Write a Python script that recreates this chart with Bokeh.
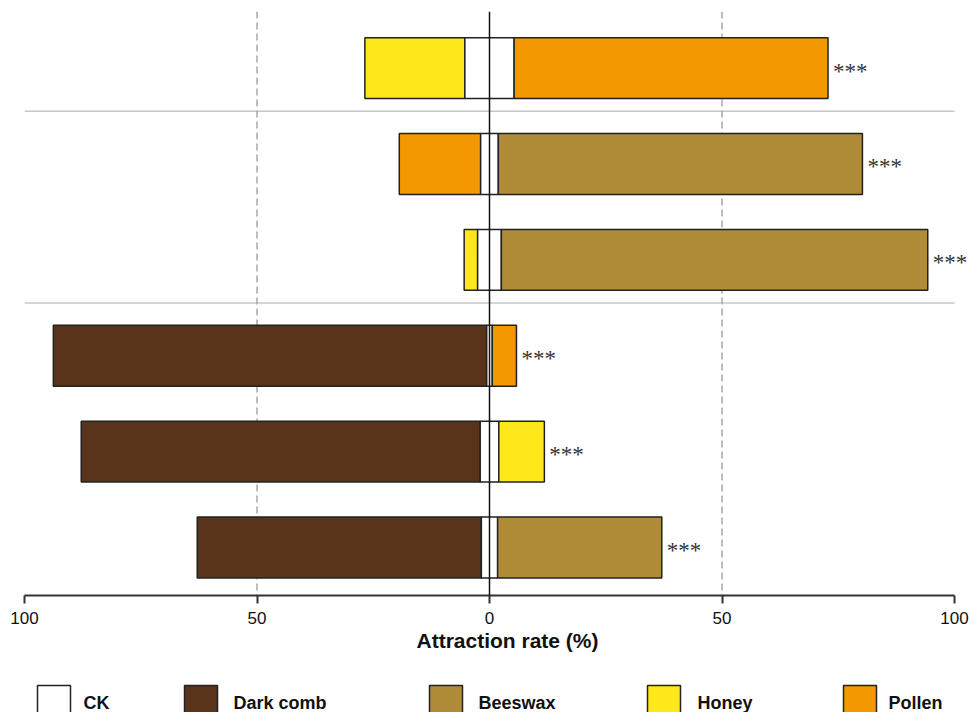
from bokeh.plotting import figure
from bokeh.models import Span, FixedTicker, ColumnDataSource, Range1d, LabelSet, Title
from bokeh.layouts import column
from bokeh.core.properties import value
from bokeh.embed import file_html
from bokeh.resources import INLINE

# ---------------- data (rows listed top -> bottom) ----------------
categories = ["CK", "Dark comb", "Beeswax", "Honey", "Pollen"]
colors = ["#FFFFFF", "#5A341A", "#B08C38", "#FEE81B", "#F39800"]
left_cat = ["Honey", "Pollen", "Honey", "Dark comb", "Dark comb", "Dark comb"]
left_val = [21.5, 17.5, 2.9, 93.2, 85.8, 61.1]
ck_val = [10.6, 3.8, 5.1, 1.2, 4.0, 3.5]
right_cat = ["Pollen", "Beeswax", "Beeswax", "Pollen", "Honey", "Beeswax"]
right_val = [67.5, 78.3, 91.7, 5.2, 9.8, 35.3]
signif = ["***", "***", "***", "***", "***", "***"]
tick_values = [-100, -50, 0, 50, 100]
tick_labels = ["100", "50", "0", "50", "100"]
x_title = "Attraction rate (%)"

cmap = dict(zip(categories, colors))
n = len(left_val)
ypos = [n - i for i in range(n)]

l_left = [-(c / 2 + v) for c, v in zip(ck_val, left_val)]
l_right = [-c / 2 for c in ck_val]
c_left = [-c / 2 for c in ck_val]
c_right = [c / 2 for c in ck_val]
r_left = [c / 2 for c in ck_val]
r_right = [c / 2 + v for c, v in zip(ck_val, right_val)]

src = ColumnDataSource(dict(
    y=ypos * 3,
    left=l_left + c_left + r_left,
    right=l_right + c_right + r_right,
    color=[cmap[c] for c in left_cat] + [cmap["CK"]] * n + [cmap[c] for c in right_cat],
))

# frame spans to the right edge; the axis is bounded to -100..100
px_per_unit = 930 / 200
x_end = 100 + 15 / px_per_unit
p = figure(width=969, height=670, output_backend="svg", toolbar_location=None,
           x_range=Range1d(-100, x_end), y_range=Range1d(0.5, 6.59),
           min_border_left=24, min_border_right=0, min_border_top=11,
           min_border_bottom=75)
p.outline_line_color = None
p.grid.visible = False
p.yaxis.visible = False

for loc in (-50, 50):
    p.add_layout(Span(location=loc, dimension="height", line_color="#A8A8A8",
                      line_width=1.5, line_dash="7 4", level="underlay"))

# separators between groups
p.segment(x0=[-100, -100], x1=[100, 100], y0=[5.55, 3.55], y1=[5.55, 3.55],
          line_color="#C8C8C8", line_width=1.5, level="underlay")

p.hbar(y="y", left="left", right="right", height=0.635, fill_color="color",
       line_color="#222222", line_width=1.5, source=src)

p.add_layout(Span(location=0, dimension="height", line_color="#111111",
                  line_width=1.5, level="overlay"))

star_src = ColumnDataSource(dict(x=r_right, y=ypos, t=signif))
p.add_layout(LabelSet(x="x", y="y", text="t", source=star_src, x_offset=5, y_offset=-3,
                      text_font=value("Liberation Serif"), text_font_size="23px",
                      text_color="#333333", text_baseline="middle", text_align="left"))

ax = p.xaxis[0]
ax.bounds = (-100, 100)
ax.ticker = FixedTicker(ticks=tick_values)
ax.major_label_overrides = {v: l for v, l in zip(tick_values, tick_labels)}
ax.minor_tick_line_color = None
ax.major_tick_in = 0
ax.major_tick_out = 8
ax.axis_line_color = "#333333"
ax.axis_line_width = 2
ax.major_tick_line_color = "#333333"
ax.major_tick_line_width = 2
ax.major_label_standoff = 8
ax.major_label_text_font = "Liberation Sans"
ax.major_label_text_font_size = "17px"
ax.major_label_text_color = "#111111"

p.add_layout(Title(text=x_title, align="left", offset=392, standoff=0,
                   text_font="Liberation Sans", text_font_style="bold",
                   text_font_size="21px", text_color="#111111"), "below")

# ---------------- legend strip ----------------
leg_box_x = [37, 184, 429, 647, 843]
leg_text_x = [83, 233, 478, 697, 888]
box = 33

leg = figure(width=969, height=42, output_backend="svg", toolbar_location=None,
             x_range=Range1d(24, 969), y_range=Range1d(42, 0),
             min_border=0, min_border_left=24, min_border_right=0,
             min_border_top=0, min_border_bottom=0)
leg.outline_line_color = None
leg.grid.visible = False
leg.axis.visible = False
leg.rect(x=[x + box / 2 for x in leg_box_x], y=[15 + box / 2] * len(categories),
         width=box, height=box, fill_color=colors, line_color="#222222", line_width=1.5)
leg.add_layout(LabelSet(x="x", y="y", text="t",
                        source=ColumnDataSource(dict(x=leg_text_x, y=[32] * len(categories),
                                                     t=categories)),
                        text_font=value("Liberation Sans"), text_font_style="bold",
                        text_font_size="18px", text_color="#111111", text_baseline="middle"))

layout = column(p, leg, spacing=0)
open("out.html", "w").write(file_html(layout, INLINE))
